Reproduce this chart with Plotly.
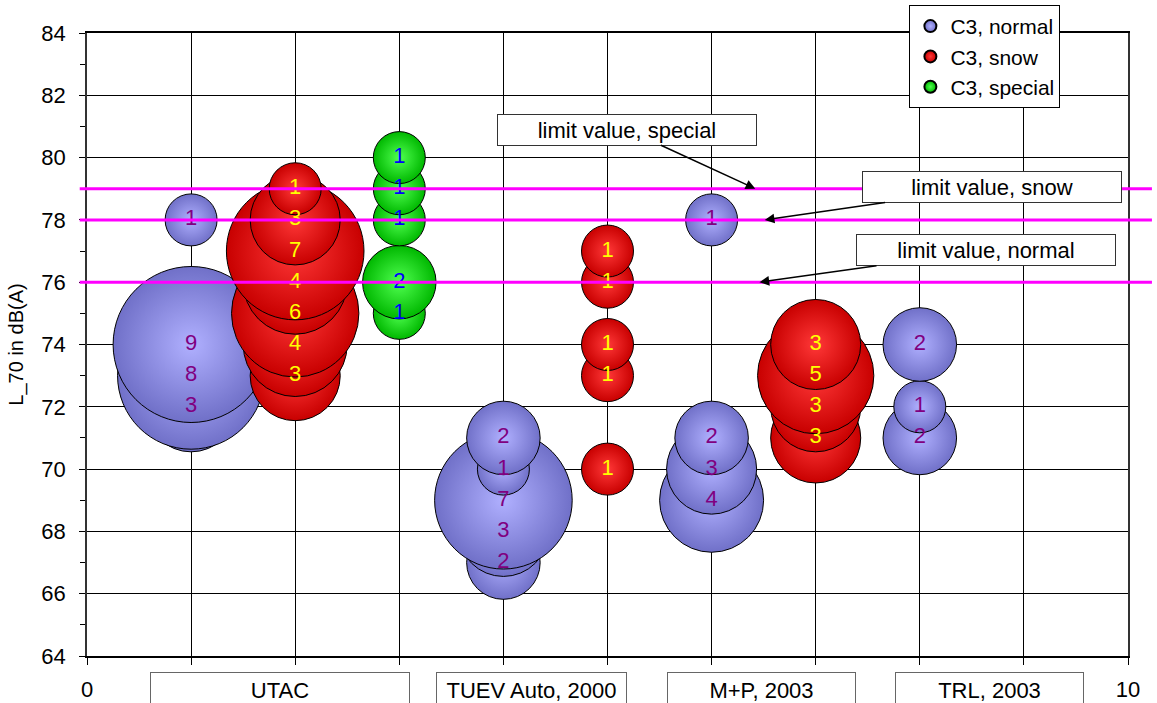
import numpy as np
import plotly.graph_objects as go

# ---------------- data ----------------
normal_x = [1, 1, 1, 1, 4, 4, 4, 4, 4, 6, 6, 6, 6, 8, 8, 8]
normal_y = [78, 74, 73, 72, 71, 70, 69, 68, 67, 78, 71, 70, 69, 74, 72, 71]
normal_n = [1, 9, 8, 3, 2, 1, 7, 3, 2, 1, 2, 3, 4, 2, 1, 2]

snow_x = [2, 2, 2, 2, 2, 2, 2, 5, 5, 5, 5, 5, 7, 7, 7, 7]
snow_y = [79, 78, 77, 76, 75, 74, 73, 77, 76, 74, 73, 70, 74, 73, 72, 71]
snow_n = [1, 3, 7, 4, 6, 4, 3, 1, 1, 1, 1, 1, 3, 5, 3, 3]

special_x = [3, 3, 3, 3, 3]
special_y = [80, 79, 78, 76, 75]
special_n = [1, 1, 1, 2, 1]

series_names = ["C3, normal", "C3, snow", "C3, special"]
limit_values = [79, 78, 76]
limit_labels = ["limit value, special", "limit value, snow", "limit value, normal"]
categories = ["UTAC", "TUEV Auto, 2000", "M+P, 2003", "TRL, 2003"]
y_title = "L_70 in dB(A)"

# ---------------- styling ----------------
FONT = "Arial, Liberation Sans, sans-serif"
FS = 22
UNIT_D = 52  # bubble diameter (px) for count 1

styles = [
    dict(outer="#7070C8", inner="#B0B0FF", text="#800080"),
    dict(outer="#C80000", inner="#FF3838", text="#FFFF00"),
    dict(outer="#00B800", inner="#50FF50", text="#0000FF"),
]

series = [(normal_x, normal_y, normal_n), (snow_x, snow_y, snow_n),
          (special_x, special_y, special_n)]

fig = go.Figure()
for (xs, ys, ns), name, st in zip(series, series_names, styles):
    # drawn from lowest to highest value, so upper bubbles lie on top
    order = sorted(range(len(ns)), key=lambda i: ys[i])
    fig.add_trace(go.Scatter(
        x=[xs[i] for i in order], y=[ys[i] for i in order],
        mode="markers", name=name,
        marker=dict(size=[UNIT_D * np.sqrt(ns[i]) for i in order],
                    sizemode="diameter", color=st["outer"], opacity=1,
                    gradient=dict(type="radial", color=st["inner"]),
                    line=dict(color="black", width=1)),
        hoverinfo="skip", cliponaxis=False,
    ))

for (xs, ys, ns), st in zip(series, styles):
    fig.add_trace(go.Scatter(
        x=xs, y=ys, mode="text", text=[str(n) for n in ns],
        textfont=dict(family=FONT, size=FS, color=st["text"]),
        textposition="middle center", showlegend=False, hoverinfo="skip",
        cliponaxis=False,
    ))

# limit lines
for v in limit_values:
    fig.add_shape(type="line", xref="paper", yref="y", x0=-0.007, x1=1.023,
                  y0=v, y1=v, line=dict(color="#FF00FF", width=3), layer="above")

# limit annotations (arrow head on the line, box offset in pixels)
ann_heads = [(6.42, -128, -59), (6.51, 227, -33), (6.46, 227, -32)]
for (hx, ax, ay), v, lab in zip(ann_heads, limit_values, limit_labels):
    fig.add_annotation(x=hx, y=v, xref="x", yref="y", ax=ax, ay=ay,
                       text=lab, showarrow=True, arrowhead=2, arrowsize=1.3,
                       arrowwidth=1.5, arrowcolor="black",
                       font=dict(family=FONT, size=FS, color="black"),
                       bgcolor="white", bordercolor="#333333", borderwidth=1,
                       borderpad=2, width=254, height=26)

# category boxes under axis
cat_x = [1.855, 4.27, 6.475, 8.665]
cat_w = [258, 189, 187, 187]
for cx, w, c in zip(cat_x, cat_w, categories):
    fig.add_annotation(x=cx, y=-0.026, xref="x", yref="paper", xanchor="center",
                       yanchor="top", text=c, showarrow=False,
                       font=dict(family=FONT, size=FS, color="black"),
                       bgcolor="white", bordercolor="#666666", borderwidth=1,
                       borderpad=0, width=w, height=34, valign="middle")

xticks = list(range(0, 11))
xtick_text = ["0"] + [""] * 9 + ["10"]

fig.update_layout(
    width=1157, height=703,
    margin=dict(l=87, r=29, t=33, b=47, autoexpand=False),
    paper_bgcolor="white", plot_bgcolor="white",
    font=dict(family=FONT, size=FS, color="black"),
    showlegend=True,
    legend=dict(x=0.79, y=1.045, xanchor="left", yanchor="top",
                bgcolor="white", bordercolor="black", borderwidth=1,
                itemsizing="constant", font=dict(family=FONT, size=21),
                tracegroupgap=0, itemwidth=30),
    xaxis=dict(range=[0, 10], tickvals=xticks, ticktext=xtick_text,
               showgrid=True, gridcolor="black", gridwidth=1,
               showline=True, linecolor="black", linewidth=1.5, mirror=True,
               ticks="outside", ticklen=7, tickcolor="black",
               ticklabelstandoff=6, zeroline=False, automargin=False,
               tickfont=dict(family=FONT, size=FS)),
    yaxis=dict(range=[64, 84], dtick=2, tick0=64,
               showgrid=True, gridcolor="black", gridwidth=1,
               showline=True, linecolor="#333333", linewidth=1.5, mirror=True,
               ticks="outside", ticklen=6, tickcolor="black",
               minor=dict(dtick=1, ticks="outside", ticklen=5,
                          tickcolor="black", showgrid=False),
               ticklabelstandoff=9, zeroline=False, automargin=False,
               tickfont=dict(family=FONT, size=FS),
               title=dict(text=y_title, font=dict(family=FONT, size=20),
                          standoff=12)),
)

fig.write_html("out.html",
               config={"displayModeBar": False},
               post_script="document.body.style.margin='0';"
                           "document.body.style.overflow='hidden';")
